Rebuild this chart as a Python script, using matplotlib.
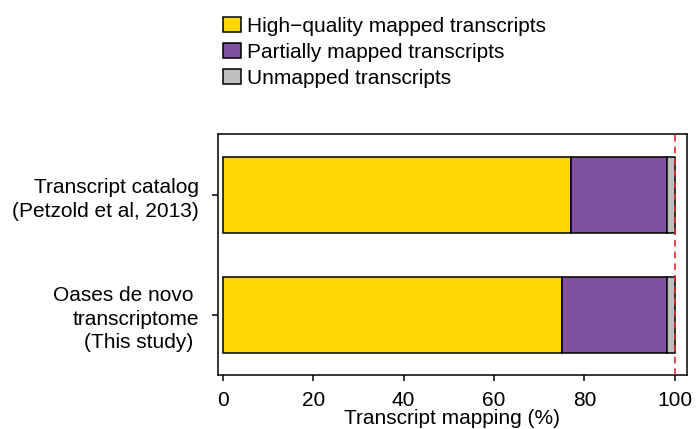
import matplotlib.pyplot as plt
import matplotlib.patches as mpatches

plt.rcParams['font.family'] = ['Liberation Sans', 'DejaVu Sans']

# Mapping percentages per transcript set (stacked to 100 %)
datasets = ['Oases de novo \ntranscriptome\n(This study) ',
            'Transcript catalog\n(Petzold et al, 2013)']
high_quality = [75.0, 77.0]
partial = [23.3, 21.2]
unmapped = [1.7, 1.8]

categories = ['High\u2212quality mapped transcripts',
              'Partially mapped transcripts',
              'Unmapped transcripts']
colors = ['#FCD700', '#7F519E', '#BEBEBE']
xticks = [0, 20, 40, 60, 80, 100]

fig = plt.figure(figsize=(6.98, 4.29), dpi=100)
ax = fig.add_axes([0.3123, 0.1259, 0.9842 - 0.3123, 0.6876 - 0.1259])

pos = list(range(len(datasets)))
left = [0] * len(datasets)
for vals, col in zip([high_quality, partial, unmapped], colors):
    ax.barh(pos, vals, left=left, height=0.633, color=col,
            edgecolor='black', linewidth=1.1)
    left = [l + v for l, v in zip(left, vals)]

ax.axvline(100, color='#E8262B', linestyle=(0, (4, 3)), linewidth=1.2, zorder=5)

ax.set_xlim(-1.1, 102.7)
ax.set_ylim(-0.5, 1.51)
ax.set_xticks(xticks)
ax.set_yticks(pos)
ax.set_yticklabels(datasets, linespacing=1.3, ha='right')
ax.tick_params(axis='x', labelsize=15, length=4.5, width=1.1, pad=7)
ax.tick_params(axis='y', labelsize=15, length=4.5, width=1.1, pad=9)
for s in ax.spines.values():
    s.set_linewidth(1.1)
ax.set_xlabel('Transcript mapping (%)', fontsize=15, labelpad=-1)

handles = [mpatches.Patch(facecolor=c, edgecolor='black', linewidth=1.1)
           for c in colors]
fig.legend(handles, categories, loc='upper left',
           bbox_to_anchor=(0.308, 0.98), frameon=False, fontsize=15,
           handlelength=0.85, handleheight=0.7, handletextpad=0.3,
           labelspacing=0.33, borderaxespad=0)

fig.savefig('out.png', dpi=100)
